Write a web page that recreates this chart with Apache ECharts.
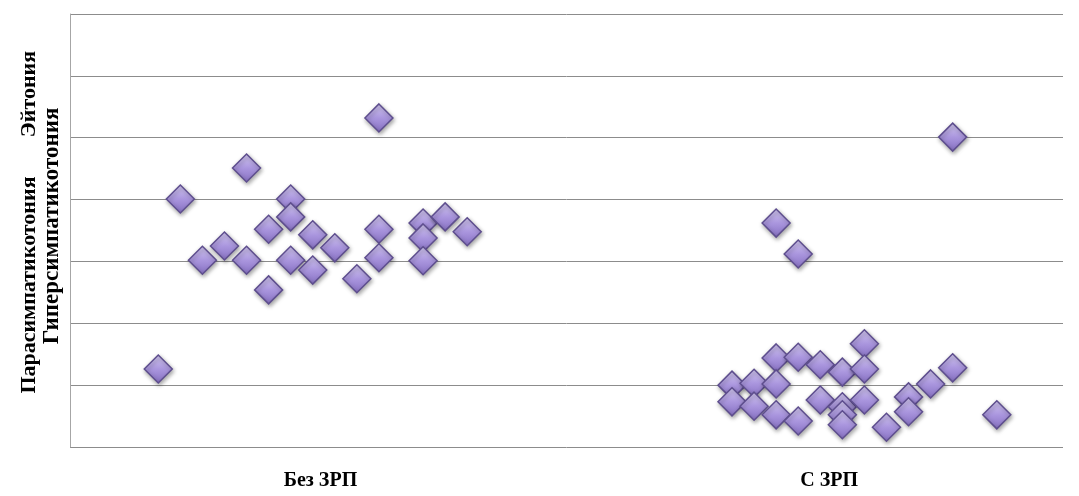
<!DOCTYPE html>
<html>
<head>
<meta charset="utf-8">
<script src="https://cdn.jsdelivr.net/npm/echarts@6/dist/echarts.min.js"></script>
<style>html,body{margin:0;padding:0;background:#fff;}#c{width:1079px;height:496px;}</style>
</head>
<body>
<div id="c"></div>
<script>
// x = jitter column index (0..45), y = autonomic tone score
const groupNames = ['Без ЗРП', 'С ЗРП'];
const groupLabelX = [11.35, 34.4];
const yTitleParts = ['Парасимпатикотония', 'Эйтония', 'Гиперсимпатикотония'];

const withoutX = [4, 5, 6, 7, 8, 8, 9, 9, 10, 10, 10, 11, 11, 12, 13, 14, 14, 14, 16, 16, 16, 17, 18];
const withoutY = [1.26, 4.01, 3.02, 3.25, 4.51, 3.02, 3.52, 2.54, 4.01, 3.72, 3.02, 3.43, 2.86, 3.22, 2.72, 5.32, 3.52, 3.06, 3.62, 3.38, 3.01, 3.72, 3.48];

const withX = [30, 30, 31, 31, 32, 32, 32, 32, 33, 33, 33, 34, 34, 35, 35, 35, 35, 36, 36, 36, 37, 38, 38, 39, 40, 40, 42];
const withY = [1.00, 0.73, 1.03, 0.66, 3.62, 1.44, 1.02, 0.52, 3.12, 1.45, 0.42, 1.33, 0.76, 1.21, 0.65, 0.52, 0.36, 1.67, 1.26, 0.76, 0.32, 0.81, 0.57, 1.02, 1.28, 5.01, 0.52];

const pts = [];
withoutX.forEach((x, i) => pts.push([x, withoutY[i]]));
withX.forEach((x, i) => pts.push([x, withY[i]]));

const chart = echarts.init(document.getElementById('c'), null, {renderer: 'canvas'});
const gridLeft = 70, gridRight = 16, gridTop = 14, gridBottom = 49;

const option = {
  animation: false,
  backgroundColor: '#ffffff',
  grid: {left: gridLeft, right: gridRight, top: gridTop, bottom: gridBottom, containLabel: false},
  xAxis: {
    type: 'value', min: 0, max: 45, interval: 5,
    axisLine: {show: false}, axisTick: {show: false}, axisLabel: {show: false}, splitLine: {show: false}
  },
  yAxis: {
    type: 'value', min: 0, max: 7, interval: 1,
    axisLine: {show: true, lineStyle: {color: '#a6a6a6', width: 1}},
    axisTick: {show: false}, axisLabel: {show: false},
    splitLine: {show: true, lineStyle: {color: '#8c8c8c', width: 1}}
  },
  series: [{
    type: 'scatter',
    data: pts,
    symbol: 'diamond',
    symbolSize: [28, 28],
    itemStyle: {
      color: new echarts.graphic.LinearGradient(0, 0, 0, 1, [
        {offset: 0, color: '#d6ccf4'},
        {offset: 0.5, color: '#aa96de'},
        {offset: 1, color: '#8670c2'}
      ]),
      borderColor: '#5e4e8e',
      borderWidth: 1.5,
      shadowColor: 'rgba(0,0,0,0.35)',
      shadowBlur: 4,
      shadowOffsetX: 1,
      shadowOffsetY: 2,
      opacity: 1
    }
  }]
};
chart.setOption(option);

const fontFam = '"Liberation Serif", "DejaVu Serif", serif';
const labelY = 481;
const graphics = groupNames.map((name, i) => {
  const px = chart.convertToPixel({gridIndex: 0}, [groupLabelX[i], 0])[0];
  return {
    type: 'text', x: px, y: labelY,
    style: {text: name, font: 'bold 20px ' + fontFam, fill: '#000', align: 'center', verticalAlign: 'middle'}
  };
});
graphics.push(
  {type: 'text', x: 29, y: 285, rotation: Math.PI / 2,
   style: {text: yTitleParts[0], font: 'bold 22px ' + fontFam, fill: '#000', align: 'center', verticalAlign: 'middle'}},
  {type: 'text', x: 29, y: 94, rotation: Math.PI / 2,
   style: {text: yTitleParts[1], font: 'bold 22px ' + fontFam, fill: '#000', align: 'center', verticalAlign: 'middle'}},
  {type: 'text', x: 52, y: 226, rotation: Math.PI / 2,
   style: {text: yTitleParts[2], font: 'bold 23px ' + fontFam, fill: '#000', align: 'center', verticalAlign: 'middle'}}
);
chart.setOption({graphic: graphics});
</script>
</body>
</html>
